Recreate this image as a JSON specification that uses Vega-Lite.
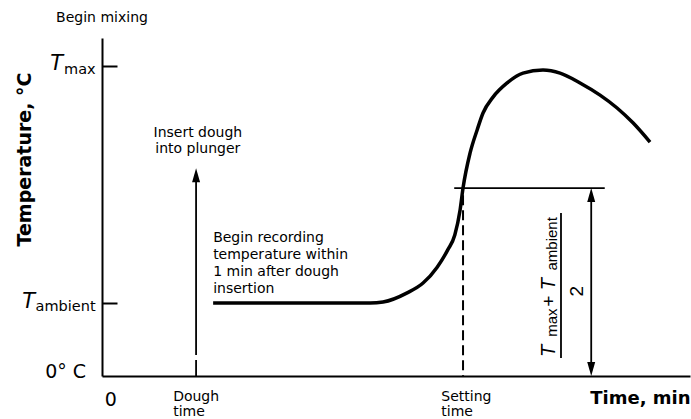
{
  "$schema": "https://vega.github.io/schema/vega-lite/v6.json",
  "width": 588,
  "height": 338,
  "autosize": {"type": "none"},
  "padding": {"left": 102, "top": 38, "right": 1, "bottom": 43},
  "background": "white",
  "config": {"view": {"stroke": null}, "text": {"font": "DejaVu Sans", "color": "black"}},
  "encoding": {
    "x": {"field": "x", "type": "quantitative", "scale": {"domain": [0, 100], "nice": false, "zero": false},
      "axis": {"domain": true, "domainColor": "black", "domainWidth": 2, "ticks": false, "labels": false, "grid": false,
        "title": "Time, min", "titleFont": "DejaVu Sans", "titleFontSize": 18, "titleFontWeight": "bold", "titleColor": "black",
        "titleAnchor": "end", "titleAlign": "right", "titleX": 588, "titleY": 27, "titleBaseline": "alphabetic"}},
    "y": {"field": "y", "type": "quantitative", "scale": {"domain": [0, 100], "nice": false, "zero": false},
      "axis": {"domain": true, "domainColor": "black", "domainWidth": 2, "ticks": true, "values": [21.6, 91.7], "tickSize": -15, "tickWidth": 2, "tickColor": "black",
        "labels": false, "grid": false, "title": "Temperature, °C", "titleFont": "DejaVu Sans", "titleFontSize": 19, "titleFontWeight": "bold", "titleColor": "black",
        "titleX": -72, "titleY": 121, "titleAlign": "center", "titleBaseline": "alphabetic"}}
  },
  "layer": [
    {
      "data": {"values": [
        {"x": 18.9, "y": 21.6}, {"x": 40.5, "y": 21.6}, {"x": 45.6, "y": 21.6}, {"x": 47.8, "y": 21.9},
        {"x": 51.9, "y": 24.6}, {"x": 54.6, "y": 27.5}, {"x": 57.0, "y": 32.2}, {"x": 58.8, "y": 37.3},
        {"x": 60.0, "y": 41.7}, {"x": 60.9, "y": 49.1}, {"x": 61.4, "y": 55.6}, {"x": 62.6, "y": 66.0},
        {"x": 63.8, "y": 72.8}, {"x": 64.8, "y": 77.8}, {"x": 66.5, "y": 82.5}, {"x": 68.9, "y": 86.7},
        {"x": 71.6, "y": 89.6}, {"x": 75.0, "y": 90.5}, {"x": 77.9, "y": 89.6}, {"x": 81.3, "y": 86.7},
        {"x": 84.7, "y": 83.1}, {"x": 87.6, "y": 79.3}, {"x": 90.3, "y": 74.9}, {"x": 93.2, "y": 69.2}
      ]},
      "mark": {"type": "line", "interpolate": "monotone", "strokeWidth": 3.5, "color": "black"}
    },
    {
      "data": {"values": [
        {"name": "dough arrow", "x": 16.0, "y": 60.0, "x2": 16.0, "y2": 6.2},
        {"name": "dough tail", "x": 16.0, "y": 4.7, "x2": 16.0, "y2": 0},
        {"name": "midpoint level", "x": 59.9, "y": 55.6, "x2": 85.5, "y2": 55.6},
        {"name": "double arrow", "x": 83.2, "y": 54.0, "x2": 83.2, "y2": 1.5},
        {"name": "fraction bar", "x": 78.06, "y": 5.3, "x2": 78.06, "y2": 48.2}
      ]},
      "mark": {"type": "rule", "strokeWidth": 1.8, "color": "black"},
      "encoding": {"x2": {"field": "x2"}, "y2": {"field": "y2"}}
    },
    {
      "data": {"values": [{"name": "setting time", "x": 61.4, "y": 53.5, "x2": 61.4, "y2": 0}]},
      "mark": {"type": "rule", "strokeWidth": 2, "color": "black", "strokeDash": [10, 5]},
      "encoding": {"x2": {"field": "x2"}, "y2": {"field": "y2"}}
    },
    {
      "data": {"values": [{"x": 16.0, "y": 61.5}, {"x": 83.2, "y": 55.6}]},
      "mark": {"type": "point", "shape": "M0,0L0.4,1.4L-0.4,1.4Z", "filled": true, "size": 400, "color": "black", "opacity": 1, "strokeWidth": 0}
    },
    {
      "data": {"values": [{"x": 83.2, "y": 0}]},
      "mark": {"type": "point", "shape": "M0,0L0.4,-1.4L-0.4,-1.4Z", "filled": true, "size": 400, "color": "black", "opacity": 1, "strokeWidth": 0}
    },
    {
      "data": {"values": [
        {"text": "Begin mixing", "x": 0, "y": 104.7},
        {"text": "Insert dough", "x": 16.3, "y": 70.7},
        {"text": "into plunger", "x": 16.3, "y": 66.0}
      ]},
      "mark": {"type": "text", "align": "center", "baseline": "alphabetic", "fontSize": 14},
      "encoding": {"text": {"field": "text"}}
    },
    {
      "data": {"values": [
        {"text": "Begin recording", "x": 18.9, "y": 39.6},
        {"text": "temperature within", "x": 18.9, "y": 34.6},
        {"text": "1 min after dough", "x": 18.9, "y": 29.6},
        {"text": "insertion", "x": 18.9, "y": 24.6},
        {"text": "Dough", "x": 12.1, "y": -7.5},
        {"text": "time", "x": 12.1, "y": -11.9},
        {"text": "Setting", "x": 57.7, "y": -7.5},
        {"text": "time", "x": 57.7, "y": -11.9}
      ]},
      "mark": {"type": "text", "align": "left", "baseline": "alphabetic", "fontSize": 14},
      "encoding": {"text": {"field": "text"}}
    },
    {
      "data": {"values": [
        {"text": "T", "x": -6.63, "y": 90.5},
        {"text": "T", "x": -11.4, "y": 20.1}
      ]},
      "mark": {"type": "text", "align": "right", "baseline": "alphabetic", "fontSize": 21, "fontStyle": "italic"},
      "encoding": {"text": {"field": "text"}}
    },
    {
      "data": {"values": [
        {"text": "max", "x": -6.46, "y": 89.3},
        {"text": "ambient", "x": -11.3, "y": 19.2}
      ]},
      "mark": {"type": "text", "align": "left", "baseline": "alphabetic", "fontSize": 14.5},
      "encoding": {"text": {"field": "text"}}
    },
    {
      "data": {"values": [{"text": "0° C", "x": -2.7, "y": -0.6}]},
      "mark": {"type": "text", "align": "right", "baseline": "alphabetic", "fontSize": 19},
      "encoding": {"text": {"field": "text"}}
    },
    {
      "data": {"values": [{"text": "0", "x": 1.5, "y": -8.9}]},
      "mark": {"type": "text", "align": "center", "baseline": "alphabetic", "fontSize": 19},
      "encoding": {"text": {"field": "text"}}
    },
    {
      "data": {"values": [
        {"text": "T", "x": 77.0, "y": 5.6},
        {"text": "T", "x": 77.0, "y": 25.4}
      ]},
      "mark": {"type": "text", "align": "left", "baseline": "alphabetic", "angle": 270, "font": "Liberation Sans", "fontSize": 20, "fontStyle": "italic"},
      "encoding": {"text": {"field": "text"}}
    },
    {
      "data": {"values": [
        {"text": "max", "x": 77.4, "y": 11.6},
        {"text": "ambient", "x": 77.4, "y": 31.2}
      ]},
      "mark": {"type": "text", "align": "left", "baseline": "alphabetic", "angle": 270, "font": "Liberation Sans", "fontSize": 15},
      "encoding": {"text": {"field": "text"}}
    },
    {
      "data": {"values": [{"text": "+", "x": 77.0, "y": 20.5}]},
      "mark": {"type": "text", "align": "left", "baseline": "alphabetic", "angle": 270, "font": "Liberation Sans", "fontSize": 19},
      "encoding": {"text": {"field": "text"}}
    },
    {
      "data": {"values": [{"text": "2", "x": 81.8, "y": 25.1}]},
      "mark": {"type": "text", "align": "center", "baseline": "alphabetic", "angle": 270, "font": "Liberation Sans", "fontSize": 19},
      "encoding": {"text": {"field": "text"}}
    }
  ]
}
